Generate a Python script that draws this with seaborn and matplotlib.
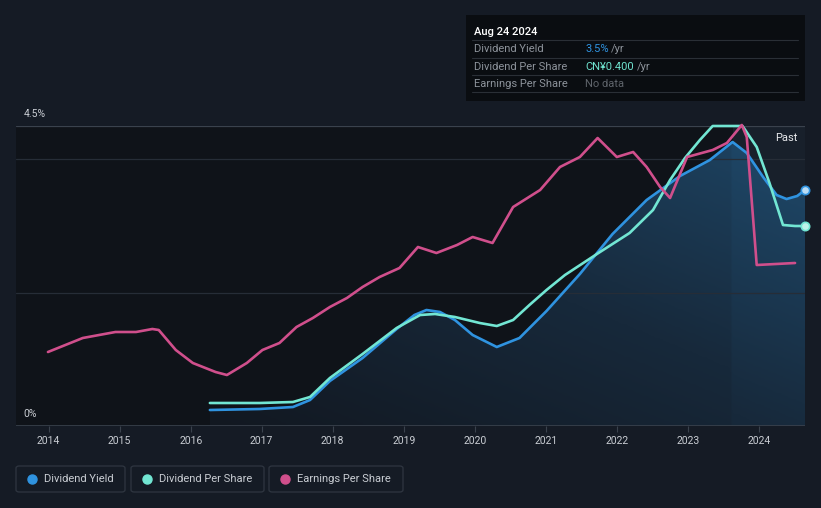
import pandas as pd
import matplotlib
matplotlib.use("Agg")
import matplotlib.pyplot as plt
from matplotlib.patches import FancyBboxPatch, Rectangle
from matplotlib.colors import LinearSegmentedColormap
import numpy as np
import seaborn as sns

# Dividend yield (%), time as decimal year
yield_t = [2016.27, 2016.97, 2017.44, 2017.68, 2017.96, 2018.42, 2018.90, 2019.15, 2019.32,
           2019.51, 2019.72, 2019.97, 2020.31, 2020.63, 2021.01, 2021.48, 2021.94, 2022.42,
           2022.89, 2023.31, 2023.63, 2023.83, 2024.06, 2024.25, 2024.39, 2024.54, 2024.65]
yield_pct = [0.24, 0.255, 0.285, 0.39, 0.675, 1.02, 1.455, 1.665, 1.74,
             1.71, 1.59, 1.365, 1.185, 1.32, 1.725, 2.28, 2.88, 3.39,
             3.75, 3.99, 4.26, 4.095, 3.735, 3.465, 3.405, 3.45, 3.54]

# Dividend per share (CN¥)
dps_t = [2016.27, 2016.97, 2017.44, 2017.68, 2017.96, 2018.42, 2018.90, 2019.23, 2019.44,
         2019.72, 2020.07, 2020.31, 2020.54, 2020.77, 2021.01, 2021.27, 2021.72, 2022.18,
         2022.51, 2022.75, 2022.96, 2023.17, 2023.35, 2023.77, 2023.97, 2024.15, 2024.34,
         2024.51, 2024.65]
dps_cny = [0.046, 0.046, 0.048, 0.058, 0.096, 0.144, 0.196, 0.222, 0.224,
           0.218, 0.206, 0.200, 0.212, 0.242, 0.272, 0.302, 0.344, 0.386,
           0.432, 0.492, 0.536, 0.572, 0.600, 0.600, 0.558, 0.486, 0.402,
           0.400, 0.400]

# Earnings per share (CN¥)
eps_t = [2013.99, 2014.48, 2014.94, 2015.23, 2015.46, 2015.55, 2015.79, 2016.03, 2016.35,
         2016.51, 2016.79, 2017.01, 2017.25, 2017.49, 2017.72, 2017.96, 2018.20, 2018.42,
         2018.66, 2018.94, 2019.20, 2019.46, 2019.75, 2019.97, 2020.25, 2020.54, 2020.92,
         2021.20, 2021.48, 2021.73, 2022.00, 2022.23, 2022.42, 2022.61, 2022.75, 2022.99,
         2023.35, 2023.55, 2023.76, 2023.83, 2023.97, 2024.51]
eps_cny = [0.222, 0.264, 0.282, 0.282, 0.291, 0.288, 0.228, 0.189, 0.162,
           0.153, 0.189, 0.228, 0.249, 0.297, 0.324, 0.357, 0.384, 0.417,
           0.447, 0.474, 0.537, 0.519, 0.543, 0.567, 0.549, 0.657, 0.708,
           0.777, 0.807, 0.864, 0.807, 0.822, 0.777, 0.717, 0.684, 0.807,
           0.828, 0.849, 0.903, 0.867, 0.483, 0.489]

years = list(range(2014, 2025))
series_names = ["Dividend Yield", "Dividend Per Share", "Earnings Per Share"]
colors = ["#2f93e0", "#72e6d3", "#d04f8c"]

Y_TOP = 4.5
DPS_TOP = 0.6
EPS_TOP = 0.9
X0, X1 = 2013.54, 2024.65

BG = "#151b25"
PLOT_BG = "#0f1319"
GRID = "#262d37"
TXT = "#c9cdd3"

df = pd.concat([
    pd.DataFrame({"t": yield_t, "v": yield_pct, "series": series_names[0]}),
    pd.DataFrame({"t": dps_t, "v": [d * Y_TOP / DPS_TOP for d in dps_cny], "series": series_names[1]}),
    pd.DataFrame({"t": eps_t, "v": [e * Y_TOP / EPS_TOP for e in eps_cny], "series": series_names[2]}),
])

sns.set_theme(style="dark")
plt.rcParams["font.family"] = ["Roboto", "DejaVu Sans"]

fig = plt.figure(figsize=(8.21, 5.08), dpi=100, facecolor=BG)
W, H = 821, 508
fx = lambda x: x / W
fy = lambda y: 1 - y / H

ax = fig.add_axes([fx(16), fy(426), 789 / W, 300 / H])
ax.set_facecolor(PLOT_BG)
for s in ax.spines.values():
    s.set_visible(False)

# last-year band
ax.axvspan(2023.63, X1, color="#18202b", zorder=0, lw=0)

# gradient fill under dividend yield (lighter towards the top and the right)
poly = ax.fill_between(yield_t, yield_pct, 0, color="none", lw=0)
cmap = LinearSegmentedColormap.from_list("g", ["#121821", "#17293b", "#1e4666"])
gx, gy = np.meshgrid(np.linspace(0, 1, 200), np.linspace(0, 1, 200))
grad = 0.55 * gy + 0.45 * gx
grad[:, int(200 * (2023.63 - yield_t[0]) / (X1 - yield_t[0])):] += 0.08
im = ax.imshow(grad, extent=[yield_t[0], X1, 0, Y_TOP], aspect="auto", cmap=cmap,
               vmin=0, vmax=1, zorder=1, origin="lower")
im.set_clip_path(poly.get_paths()[0], transform=ax.transData)

for g in [2, 4]:
    ax.axhline(g, color=GRID, lw=0.9, zorder=1.5)
ax.axhline(4.5, color="#3a424d", lw=0.9, zorder=1.5)
ax.axhline(0, color="#3a424d", lw=1.2, zorder=1.5)

sns.lineplot(data=df, x="t", y="v", hue="series", palette=dict(zip(series_names, colors)),
             linewidth=1.9, legend=False, sort=False, estimator=None, ax=ax, zorder=3)
for line in ax.get_lines()[-3:]:
    line.set_clip_on(False)
    line.set_solid_capstyle("round")
    line.set_solid_joinstyle("round")

ax.scatter([yield_t[-1]], [yield_pct[-1]], s=36, facecolor="#b9dcf5", edgecolor=colors[0],
           linewidth=1.2, zorder=5, clip_on=False)
ax.scatter([dps_t[-1]], [dps_cny[-1] * Y_TOP / DPS_TOP], s=36, facecolor="#bff3ea",
           edgecolor=colors[1], linewidth=1.2, zorder=5, clip_on=False)

ax.set_xlim(X0, X1)
ax.set_ylim(0, Y_TOP)
ax.set_xticks(years)
ax.set_xticklabels([str(y) for y in years])
ax.set_yticks([])
ax.tick_params(axis="x", bottom=True, length=4, width=0.8, color="#3a424d",
               labelcolor=TXT, labelsize=7.5, pad=3)
ax.set_xlabel("")
ax.set_ylabel("")
ax.grid(False)

ax.text(2013.65, 0.18, "0%", color=TXT, fontsize=7.5, va="center", ha="left")
ax.text(2013.65, 4.68, "4.5%", color=TXT, fontsize=7.5, va="center", ha="left", clip_on=False)
ax.text(2024.54, 4.32, "Past", color="#e8eaed", fontsize=8, va="center", ha="right")

# tooltip box
fig.add_artist(Rectangle((fx(466), fy(101)), (805 - 466) / W, 86 / H,
                         transform=fig.transFigure, facecolor="#0a0d11", edgecolor="none"))
fig.text(fx(474), fy(32), "Aug 24 2024", color="white", fontsize=8, va="center",
         fontweight="medium")
rows = [("Dividend Yield", "3.5%", colors[0], 611),
        ("Dividend Per Share", "CN¥0.400", "#6fe3cf", 637),
        ("Earnings Per Share", "No data", "#5f646b", None)]
for i, (lab, val, vc, yr_x) in enumerate(rows):
    yy = 49 + i * 17.5
    fig.add_artist(plt.Line2D([fx(472), fx(798)], [fy(yy - 9), fy(yy - 9)],
                              transform=fig.transFigure, color="#2a2f36", lw=0.8))
    fig.text(fx(474), fy(yy), lab, color="#8d939b", fontsize=8, va="center")
    fig.text(fx(585), fy(yy), val, color=vc, fontsize=8, va="center")
    if yr_x:
        fig.text(fx(yr_x), fy(yy), "/yr", color="#8d939b", fontsize=8, va="center")
fig.add_artist(plt.Line2D([fx(472), fx(798)], [fy(92), fy(92)],
                          transform=fig.transFigure, color="#2a2f36", lw=0.8))

# legend
boxes = [(16, 125), (131, 264), (269, 403)]
for (x0, x1), name, c in zip(boxes, series_names, colors):
    fig.add_artist(FancyBboxPatch((fx(x0), fy(492)), (x1 - x0) / W, 26 / H,
                                  boxstyle="round,pad=0,rounding_size=0.004",
                                  transform=fig.transFigure, facecolor=BG,
                                  edgecolor="#2f3641", lw=0.9))
    fig.add_artist(plt.Line2D([fx(x0 + 16)], [fy(479)], transform=fig.transFigure,
                              marker="o", markersize=6.5, color=c, lw=0))
    fig.text(fx(x0 + 28), fy(479), name, color=TXT, fontsize=8, va="center")

fig.savefig("out.png", dpi=100, facecolor=BG)
